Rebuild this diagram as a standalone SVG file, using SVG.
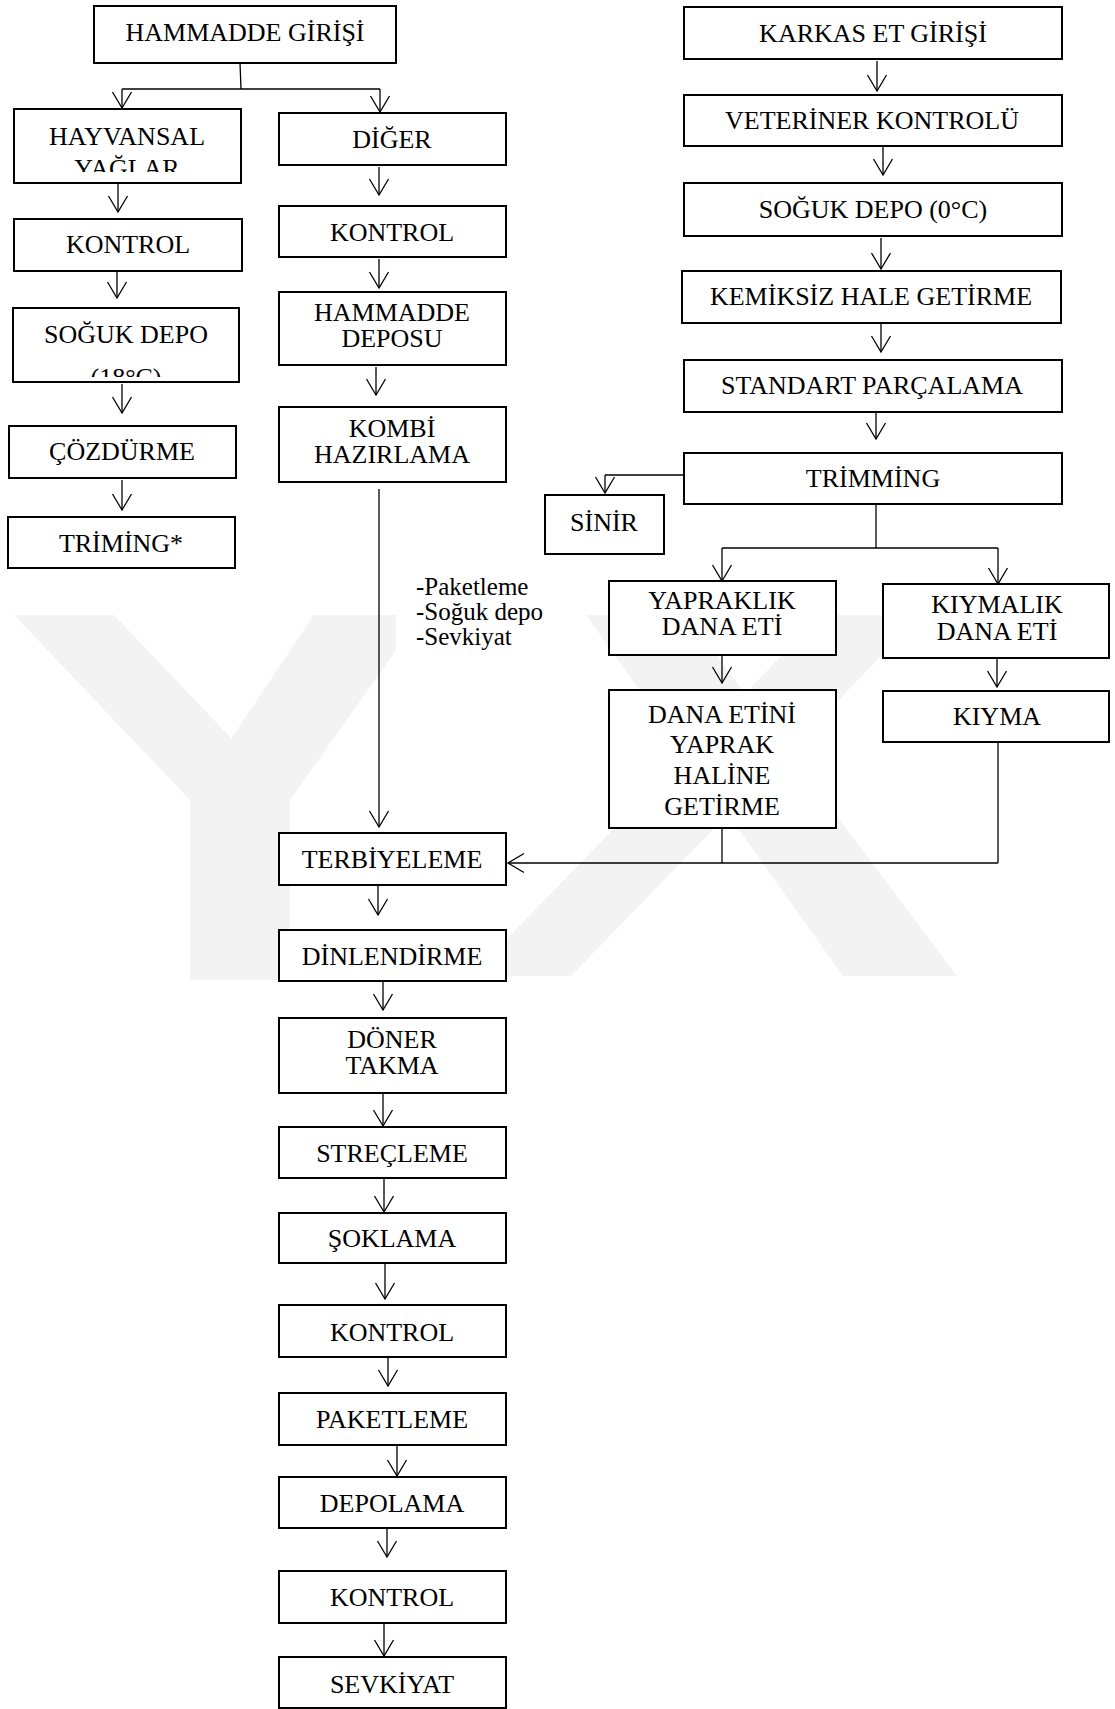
<svg xmlns="http://www.w3.org/2000/svg" width="1115" height="1709" viewBox="0 0 1115 1709">
<style>
.box{fill:#fff;stroke:#000;stroke-width:2}
.t{font-family:"Liberation Serif","Times New Roman",serif;font-size:26px;fill:#000;text-anchor:middle}
.note{font-family:"Liberation Serif","Times New Roman",serif;font-size:25px;fill:#000}
.c{fill:none;stroke:#000;stroke-width:1.3}
.a{fill:none;stroke:#000;stroke-width:1.3;marker-end:url(#arr)}
.wm{fill:#f3f3f3}
</style>
<defs>
<marker id="arr" markerUnits="userSpaceOnUse" viewBox="-18 -11 20 22" markerWidth="20" markerHeight="22" refX="0" refY="0" orient="auto" overflow="visible">
<path d="M-16,-9.5 L0,0 L-16,9.5" fill="none" stroke="#000" stroke-width="1.3"/>
</marker>
<clipPath id="clipH"><rect x="14" y="109" width="227" height="63"/></clipPath>
<clipPath id="clipS"><rect x="13" y="308" width="226" height="69"/></clipPath>
</defs>
<rect width="1115" height="1709" fill="#fff"/>
<g id="watermark">
<polygon class="wm" points="14,615 114,615 290,800 290,980 190,980 190,800"/>
<polygon class="wm" points="314,615 421,615 290,800 190,800"/>
<polygon class="wm" points="586,615 686,615 957,976 843,976"/>
<polygon class="wm" points="821,615 921,615 571,976 471,976"/>
</g>
<g id="connectors">
<path class="c" d="M240,63 L241,89"/>
<path class="c" d="M122,89 L380,89"/>
<path class="a" d="M122,89 L122,108"/>
<path class="a" d="M380,89 L380,112"/>
<path class="a" d="M118,183 L118,212"/>
<path class="a" d="M117,272 L117,298"/>
<path class="a" d="M122,384 L122,413"/>
<path class="a" d="M122,480 L122,510"/>
<path class="a" d="M379,167 L379,195"/>
<path class="a" d="M379,259 L379,288"/>
<path class="a" d="M376,367 L376,395"/>
<path class="a" d="M379,489 L379,827"/>
<path class="a" d="M877,61 L877,91"/>
<path class="a" d="M883,147 L883,175"/>
<path class="a" d="M881,238 L881,269"/>
<path class="a" d="M881,324 L881,352"/>
<path class="a" d="M876,413 L876,439"/>
<path class="c" d="M684,475 L605,475"/>
<path class="a" d="M605,475 L605,493"/>
<path class="c" d="M876,504 L876,548"/>
<path class="c" d="M722,548 L998,548"/>
<path class="a" d="M722,548 L722,581"/>
<path class="a" d="M998,548 L998,584"/>
<path class="a" d="M722,655 L722,683"/>
<path class="a" d="M997,658 L997,687"/>
<path class="c" d="M722,828 L722,863"/>
<path class="c" d="M998,742 L998,863"/>
<path class="a" d="M998,863 L508,863"/>
<path class="a" d="M378,885 L378,915"/>
<path class="a" d="M383,981 L383,1010"/>
<path class="a" d="M383,1093 L383,1126"/>
<path class="a" d="M384,1178 L384,1212"/>
<path class="a" d="M385,1263 L385,1299"/>
<path class="a" d="M388,1357 L388,1386"/>
<path class="a" d="M397,1445 L397,1476"/>
<path class="a" d="M387,1528 L387,1557"/>
<path class="a" d="M384,1623 L384,1656"/>
</g>
<g id="note">
<rect x="396" y="575" width="188" height="93" fill="#fff"/>
<text class="note" x="416" y="595">-Paketleme</text>
<text class="note" x="416" y="620">-Soğuk depo</text>
<text class="note" x="416" y="645">-Sevkiyat</text>
</g>
<g id="n1"><rect class="box" x="94" y="6" width="302" height="57"/><text class="t" x="245" y="41">HAMMADDE GİRİŞİ</text></g>
<g id="n2"><rect class="box" x="14" y="109" width="227" height="74"/><g clip-path="url(#clipH)"><text class="t" x="127" y="145">HAYVANSAL</text><text class="t" x="127" y="177">YAĞLAR</text></g></g>
<g id="n3"><rect class="box" x="14" y="219" width="228" height="52"/><text class="t" x="128" y="253">KONTROL</text></g>
<g id="n4"><rect class="box" x="13" y="308" width="226" height="74"/><g clip-path="url(#clipS)"><text class="t" x="126" y="343">SOĞUK DEPO</text><text class="t" x="126" y="386">(18°C)</text></g></g>
<g id="n5"><rect class="box" x="9" y="426" width="227" height="52"/><text class="t" x="122" y="460">ÇÖZDÜRME</text></g>
<g id="n6"><rect class="box" x="8" y="517" width="227" height="51"/><text class="t" x="121" y="552">TRİMİNG*</text></g>
<g id="n7"><rect class="box" x="279" y="113" width="227" height="52"/><text class="t" x="392" y="148">DİĞER</text></g>
<g id="n8"><rect class="box" x="279" y="206" width="227" height="51"/><text class="t" x="392" y="241">KONTROL</text></g>
<g id="n9"><rect class="box" x="279" y="292" width="227" height="73"/><text class="t" x="392" y="321">HAMMADDE</text><text class="t" x="392" y="347">DEPOSU</text></g>
<g id="n10"><rect class="box" x="279" y="407" width="227" height="75"/><text class="t" x="392" y="437">KOMBİ</text><text class="t" x="392" y="463">HAZIRLAMA</text></g>
<g id="n11"><rect class="box" x="279" y="833" width="227" height="52"/><text class="t" x="392" y="868">TERBİYELEME</text></g>
<g id="n12"><rect class="box" x="279" y="930" width="227" height="51"/><text class="t" x="392" y="965">DİNLENDİRME</text></g>
<g id="n13"><rect class="box" x="279" y="1018" width="227" height="75"/><text class="t" x="392" y="1048">DÖNER</text><text class="t" x="392" y="1074">TAKMA</text></g>
<g id="n14"><rect class="box" x="279" y="1127" width="227" height="51"/><text class="t" x="392" y="1162">STREÇLEME</text></g>
<g id="n15"><rect class="box" x="279" y="1213" width="227" height="50"/><text class="t" x="392" y="1247">ŞOKLAMA</text></g>
<g id="n16"><rect class="box" x="279" y="1305" width="227" height="52"/><text class="t" x="392" y="1341">KONTROL</text></g>
<g id="n17"><rect class="box" x="279" y="1393" width="227" height="52"/><text class="t" x="392" y="1428">PAKETLEME</text></g>
<g id="n18"><rect class="box" x="279" y="1477" width="227" height="51"/><text class="t" x="392" y="1512">DEPOLAMA</text></g>
<g id="n19"><rect class="box" x="279" y="1571" width="227" height="52"/><text class="t" x="392" y="1606">KONTROL</text></g>
<g id="n20"><rect class="box" x="279" y="1657" width="227" height="51"/><text class="t" x="392" y="1693">SEVKİYAT</text></g>
<g id="n21"><rect class="box" x="684" y="7" width="378" height="52"/><text class="t" x="873" y="42">KARKAS ET GİRİŞİ</text></g>
<g id="n22"><rect class="box" x="684" y="95" width="378" height="51"/><text class="t" x="872" y="129">VETERİNER KONTROLÜ</text></g>
<g id="n23"><rect class="box" x="684" y="183" width="378" height="53"/><text class="t" x="873" y="218">SOĞUK DEPO (0°C)</text></g>
<g id="n24"><rect class="box" x="682" y="271" width="379" height="52"/><text class="t" x="871" y="305">KEMİKSİZ HALE GETİRME</text></g>
<g id="n25"><rect class="box" x="684" y="360" width="378" height="52"/><text class="t" x="872" y="394">STANDART PARÇALAMA</text></g>
<g id="n26"><rect class="box" x="684" y="453" width="378" height="51"/><text class="t" x="873" y="487">TRİMMİNG</text></g>
<g id="n27"><rect class="box" x="545" y="495" width="119" height="59"/><text class="t" x="604" y="531">SİNİR</text></g>
<g id="n28"><rect class="box" x="609" y="581" width="227" height="74"/><text class="t" x="722" y="609">YAPRAKLIK</text><text class="t" x="722" y="635">DANA ETİ</text></g>
<g id="n29"><rect class="box" x="609" y="690" width="227" height="138"/><text class="t" x="722" y="723">DANA ETİNİ</text><text class="t" x="722" y="753">YAPRAK</text><text class="t" x="722" y="784">HALİNE</text><text class="t" x="722" y="815">GETİRME</text></g>
<g id="n30"><rect class="box" x="883" y="584" width="226" height="74"/><text class="t" x="997" y="613">KIYMALIK</text><text class="t" x="997" y="640">DANA ETİ</text></g>
<g id="n31"><rect class="box" x="883" y="691" width="226" height="51"/><text class="t" x="997" y="725">KIYMA</text></g>
</svg>
